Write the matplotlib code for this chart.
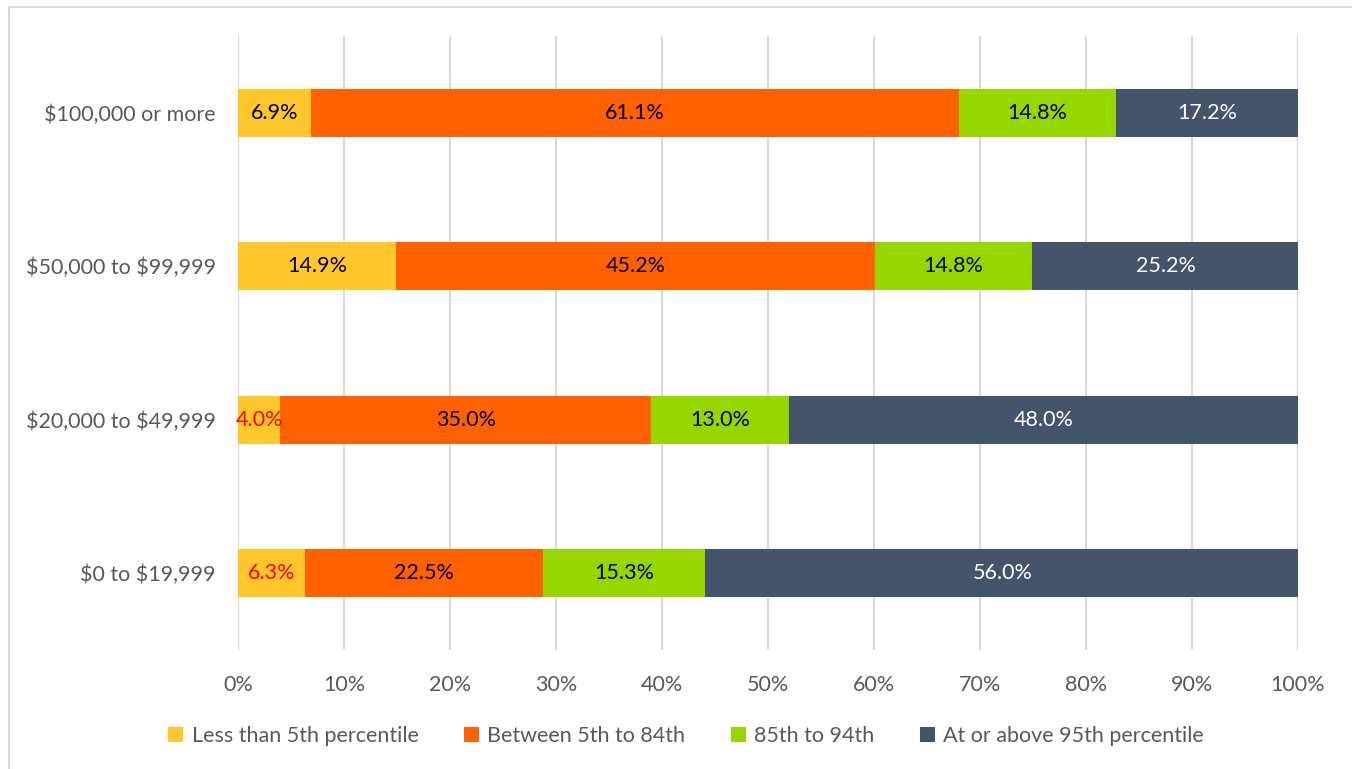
import matplotlib
matplotlib.use('Agg')
from matplotlib import pyplot as plt
from matplotlib.patches import Rectangle
import numpy as np

plt.rcParams['font.family'] = ['Lato', 'DejaVu Sans']
plt.rcParams['text.parse_math'] = False

categories = ['$0 to $19,999', '$20,000 to $49,999', '$50,000 to $99,999', '$100,000 or more']
series_names = ['Less than 5th percentile', 'Between 5th to 84th',
                '85th to 94th', 'At or above 95th percentile']
less_5th = [6.3, 4.0, 14.9, 6.9]
between_5_84 = [22.5, 35.0, 45.2, 61.1]
p85_94 = [15.3, 13.0, 14.8, 14.8]
above_95 = [56.0, 48.0, 25.2, 17.2]
x_ticks = [0, 10, 20, 30, 40, 50, 60, 70, 80, 90, 100]

colors = ['#FFC72C', '#FF6100', '#98D600', '#44546A']
series = [less_5th, between_5_84, p85_94, above_95]

W, H = 1352, 769
fig = plt.figure(figsize=(W / 100, H / 100), dpi=100)
ax = fig.add_axes([238 / W, 1 - 650 / H, (1298 - 238) / W, (650 - 36) / H])

# outer chart border (cropped on right/bottom)
fig.patches.append(Rectangle((9 / W, -0.1), 1.2, 1 - 7 / H + 0.1,
                             transform=fig.transFigure, fill=False,
                             edgecolor='#D9D9D9', lw=1.5))

fs = 15.5
y = np.arange(len(categories))
left = np.zeros(len(categories))
for i, (vals, col, name) in enumerate(zip(series, colors, series_names)):
    vals = np.array(vals)
    ax.barh(y, vals, left=left, height=0.31, color=col, label=name, zorder=3)
    for j, v in enumerate(vals):
        tc = 'black'
        if i == 3:
            tc = 'white'
        elif i == 0 and j < 2:
            tc = '#FF0000'
        ax.text(left[j] + v / 2, y[j], '{:.1f}%'.format(v), ha='center',
                va='center', fontsize=fs, color=tc, zorder=4)
    left += vals

ax.set_xlim(0, 100)
ax.set_ylim(-0.5, 3.5)
ax.set_xticks(x_ticks)
ax.set_xticklabels(['{}%'.format(t) for t in x_ticks])
ax.set_yticks(y)
ax.set_yticklabels(categories)
ax.tick_params(axis='both', length=0, labelsize=fs, colors='#595959')
ax.tick_params(axis='x', pad=18)
ax.tick_params(axis='y', pad=16)
ax.grid(axis='x', color='#D9D9D9', lw=1.5, zorder=0)
for s in ax.spines.values():
    s.set_visible(False)

fig.legend(loc='center', bbox_to_anchor=(686 / W, 1 - 736 / H), ncol=4,
           frameon=False, fontsize=fs, handlelength=0.7, handleheight=0.7,
           handletextpad=0.4, columnspacing=2.1, labelcolor='#595959')

plt.savefig('out.png', dpi=100)
